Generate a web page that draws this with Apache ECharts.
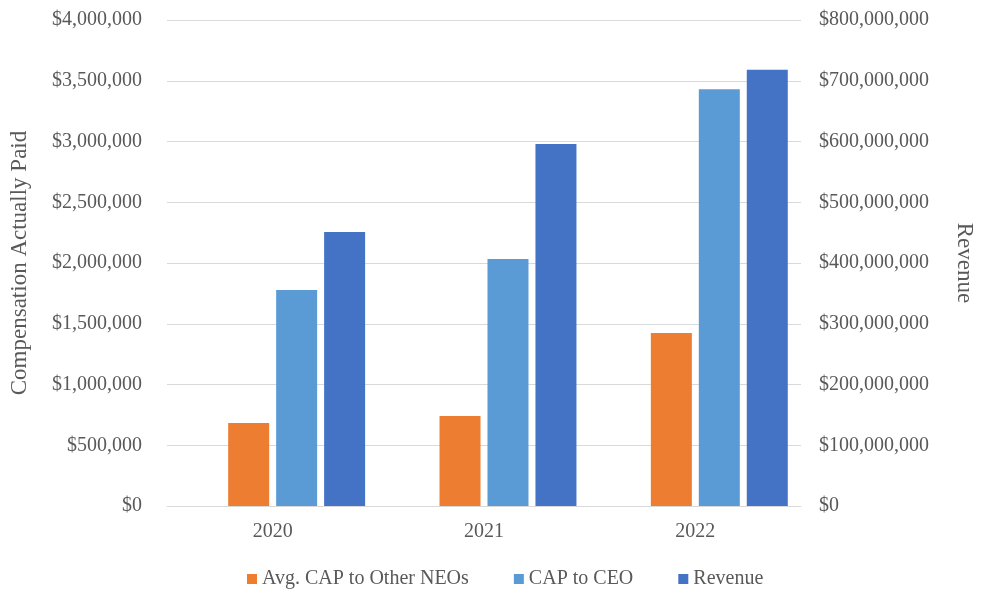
<!DOCTYPE html>
<html>
<head>
<meta charset="utf-8">
<script src="https://cdn.jsdelivr.net/npm/echarts@6/dist/echarts.min.js"></script>
<style>
  html, body { margin: 0; padding: 0; background: #fff; }
  #chart { width: 984px; height: 594px; }
</style>
</head>
<body>
<div id="chart"></div>
<script>
// Fiscal years on the category axis
const years = ['2020', '2021', '2022'];
// Compensation actually paid (left axis, USD)
const avgCapOtherNeos = [683000, 741000, 1424000];
const capToCeo = [1778000, 2033000, 3430000];
// Revenue (right axis, USD)
const revenue = [451000000, 596000000, 718000000];
// Empty leading slot in each year's bar group (keeps the group right of the year label)
const emptySlot = [null, null, null];

const seriesNames = ['Avg. CAP to Other NEOs', 'CAP to CEO', 'Revenue'];
const colors = ['#ED7D31', '#5B9BD5', '#4472C4'];

const fmt = v => '$' + Math.round(v).toLocaleString('en-US');
const font = '"Liberation Serif", "Times New Roman", serif';
const textColor = '#595959';

const chart = echarts.init(document.getElementById('chart'), null, { renderer: 'canvas' });
const bar = { type: 'bar', barWidth: 41, barGap: '17%' };
chart.setOption({
  animation: false,
  textStyle: { fontFamily: font },
  grid: { left: 166, right: 182, top: 20, bottom: 88 },
  legend: {
    bottom: 0,
    left: 242,
    itemWidth: 10,
    itemHeight: 10,
    itemGap: 45,
    icon: 'rect',
    textStyle: { fontFamily: font, fontSize: 20, color: textColor },
    data: seriesNames
  },
  xAxis: {
    type: 'category',
    data: years,
    axisLine: { lineStyle: { color: '#d9d9d9', width: 1 } },
    axisTick: { show: false },
    axisLabel: { fontFamily: font, fontSize: 20, color: textColor, margin: 16 }
  },
  yAxis: [
    {
      type: 'value',
      min: 0, max: 4000000, interval: 500000,
      name: 'Compensation Actually Paid',
      nameLocation: 'middle',
      nameGap: 136,
      nameTextStyle: { fontFamily: font, fontSize: 23, color: textColor },
      axisLine: { show: false },
      axisTick: { show: false },
      splitLine: { lineStyle: { color: '#d9d9d9', width: 1 } },
      axisLabel: { fontFamily: font, fontSize: 20, color: textColor, margin: 25, formatter: fmt }
    },
    {
      type: 'value',
      min: 0, max: 800000000, interval: 100000000,
      name: 'Revenue',
      nameLocation: 'middle',
      nameGap: 152,
      nameRotate: -90,
      nameTextStyle: { fontFamily: font, fontSize: 23, color: textColor },
      axisLine: { show: false },
      axisTick: { show: false },
      splitLine: { show: false },
      axisLabel: { fontFamily: font, fontSize: 20, color: textColor, margin: 18, formatter: fmt }
    }
  ],
  series: [
    Object.assign({ name: 'slot', yAxisIndex: 0, data: emptySlot, silent: true }, bar),
    Object.assign({ name: seriesNames[0], yAxisIndex: 0, data: avgCapOtherNeos, itemStyle: { color: colors[0] } }, bar),
    Object.assign({ name: seriesNames[1], yAxisIndex: 0, data: capToCeo, itemStyle: { color: colors[1] } }, bar),
    Object.assign({ name: seriesNames[2], yAxisIndex: 1, data: revenue, itemStyle: { color: colors[2] } }, bar)
  ]
});
</script>
</body>
</html>
